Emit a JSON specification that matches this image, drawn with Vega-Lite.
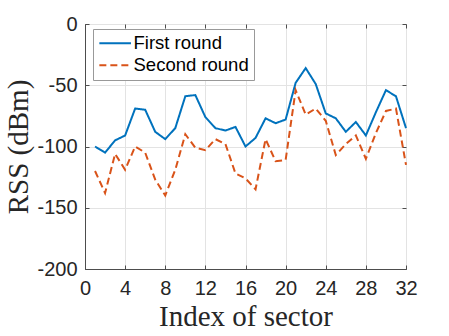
{
  "$schema": "https://vega.github.io/schema/vega-lite/v6.json",
  "autosize": {"type": "none"},
  "padding": {"left": 85, "top": 24, "right": 43, "bottom": 67},
  "width": 321,
  "height": 245,
  "background": "white",
  "config": {
    "view": {"stroke": "#4d4d4d", "strokeWidth": 1},
    "axis": {
      "labelFont": "Liberation Sans",
      "labelFontSize": 20,
      "labelColor": "#262626",
      "titleFont": "Liberation Serif",
      "titleFontSize": 29,
      "titleFontWeight": "normal",
      "titleColor": "#262626",
      "gridColor": "#e3e3e3",
      "gridWidth": 1,
      "domainColor": "#4d4d4d",
      "tickColor": "#4d4d4d",
      "tickSize": -4
    }
  },
  "data": {
    "values": [
      {"sector": 1, "rss": -100, "round": "First round"},
      {"sector": 2, "rss": -105, "round": "First round"},
      {"sector": 3, "rss": -95, "round": "First round"},
      {"sector": 4, "rss": -91, "round": "First round"},
      {"sector": 5, "rss": -69, "round": "First round"},
      {"sector": 6, "rss": -70, "round": "First round"},
      {"sector": 7, "rss": -88, "round": "First round"},
      {"sector": 8, "rss": -94, "round": "First round"},
      {"sector": 9, "rss": -85, "round": "First round"},
      {"sector": 10, "rss": -59, "round": "First round"},
      {"sector": 11, "rss": -58, "round": "First round"},
      {"sector": 12, "rss": -76, "round": "First round"},
      {"sector": 13, "rss": -85, "round": "First round"},
      {"sector": 14, "rss": -87, "round": "First round"},
      {"sector": 15, "rss": -84, "round": "First round"},
      {"sector": 16, "rss": -100, "round": "First round"},
      {"sector": 17, "rss": -93, "round": "First round"},
      {"sector": 18, "rss": -77, "round": "First round"},
      {"sector": 19, "rss": -81, "round": "First round"},
      {"sector": 20, "rss": -78, "round": "First round"},
      {"sector": 21, "rss": -48, "round": "First round"},
      {"sector": 22, "rss": -36, "round": "First round"},
      {"sector": 23, "rss": -49, "round": "First round"},
      {"sector": 24, "rss": -73, "round": "First round"},
      {"sector": 25, "rss": -77, "round": "First round"},
      {"sector": 26, "rss": -88, "round": "First round"},
      {"sector": 27, "rss": -80, "round": "First round"},
      {"sector": 28, "rss": -91, "round": "First round"},
      {"sector": 29, "rss": -72, "round": "First round"},
      {"sector": 30, "rss": -54, "round": "First round"},
      {"sector": 31, "rss": -59, "round": "First round"},
      {"sector": 32, "rss": -85, "round": "First round"},
      {"sector": 1, "rss": -120, "round": "Second round"},
      {"sector": 2, "rss": -138, "round": "Second round"},
      {"sector": 3, "rss": -106, "round": "Second round"},
      {"sector": 4, "rss": -119, "round": "Second round"},
      {"sector": 5, "rss": -100, "round": "Second round"},
      {"sector": 6, "rss": -105, "round": "Second round"},
      {"sector": 7, "rss": -127, "round": "Second round"},
      {"sector": 8, "rss": -140, "round": "Second round"},
      {"sector": 9, "rss": -119, "round": "Second round"},
      {"sector": 10, "rss": -90, "round": "Second round"},
      {"sector": 11, "rss": -101, "round": "Second round"},
      {"sector": 12, "rss": -103, "round": "Second round"},
      {"sector": 13, "rss": -94, "round": "Second round"},
      {"sector": 14, "rss": -98, "round": "Second round"},
      {"sector": 15, "rss": -122, "round": "Second round"},
      {"sector": 16, "rss": -126, "round": "Second round"},
      {"sector": 17, "rss": -135, "round": "Second round"},
      {"sector": 18, "rss": -94, "round": "Second round"},
      {"sector": 19, "rss": -112, "round": "Second round"},
      {"sector": 20, "rss": -111, "round": "Second round"},
      {"sector": 21, "rss": -54, "round": "Second round"},
      {"sector": 22, "rss": -74, "round": "Second round"},
      {"sector": 23, "rss": -69, "round": "Second round"},
      {"sector": 24, "rss": -79, "round": "Second round"},
      {"sector": 25, "rss": -107, "round": "Second round"},
      {"sector": 26, "rss": -98, "round": "Second round"},
      {"sector": 27, "rss": -91, "round": "Second round"},
      {"sector": 28, "rss": -110, "round": "Second round"},
      {"sector": 29, "rss": -89, "round": "Second round"},
      {"sector": 30, "rss": -71, "round": "Second round"},
      {"sector": 31, "rss": -69, "round": "Second round"},
      {"sector": 32, "rss": -115, "round": "Second round"}
    ]
  },
  "layer": [
    {
      "mark": {"type": "line", "strokeWidth": 2},
      "encoding": {
        "x": {
          "field": "sector", "type": "quantitative",
          "scale": {"domain": [0, 32], "nice": false, "zero": false},
          "axis": {"values": [0, 4, 8, 12, 16, 20, 24, 28, 32], "title": "Index of sector", "labelPadding": 13, "titlePadding": 4, "labelFlush": false}
        },
        "y": {
          "field": "rss", "type": "quantitative",
          "scale": {"domain": [-200, 0], "nice": false},
          "axis": {"values": [0, -50, -100, -150, -200], "title": "RSS (dBm)", "labelExpr": "'' + datum.value", "labelPadding": 12, "titlePadding": 3}
        },
        "color": {
          "field": "round", "type": "nominal",
          "scale": {"domain": ["First round", "Second round"], "range": ["#0072BD", "#D95319"]},
          "legend": {
            "title": null,
            "orient": "none",
            "legendX": 8,
            "legendY": 5,
            "symbolType": "M-1,0H3",
            "symbolSize": 250,
            "symbolStrokeWidth": 2,
            "labelFont": "Liberation Sans",
            "labelFontSize": 18.5,
            "labelColor": "#000000",
            "labelOffset": 17,
            "rowPadding": 3,
            "padding": 5,
            "strokeColor": "#999999",
            "fillColor": "white"
          }
        },
        "strokeDash": {
          "field": "round", "type": "nominal",
          "scale": {"domain": ["First round", "Second round"], "range": [[1, 0], [7, 4]]},
          "legend": {
            "title": null,
            "orient": "none",
            "legendX": 8,
            "legendY": 5,
            "symbolType": "M-1,0H3",
            "symbolSize": 250,
            "symbolStrokeWidth": 2,
            "labelFont": "Liberation Sans",
            "labelFontSize": 18.5,
            "labelColor": "#000000",
            "labelOffset": 17,
            "rowPadding": 3,
            "padding": 5,
            "strokeColor": "#999999",
            "fillColor": "white"
          }
        }
      }
    },
    {
      "mark": {"type": "line", "opacity": 0},
      "encoding": {
        "x": {
          "field": "sector", "type": "quantitative",
          "scale": {"domain": [0, 32], "nice": false, "zero": false},
          "axis": {"orient": "top", "values": [0, 4, 8, 12, 16, 20, 24, 28, 32], "labels": false, "grid": false, "domain": false, "title": null}
        },
        "y": {
          "field": "rss", "type": "quantitative",
          "scale": {"domain": [-200, 0], "nice": false},
          "axis": {"orient": "right", "values": [0, -50, -100, -150, -200], "labels": false, "grid": false, "domain": false, "title": null}
        },
        "detail": {"field": "round"}
      }
    }
  ],
  "resolve": {"axis": {"x": "independent", "y": "independent"}}
}
